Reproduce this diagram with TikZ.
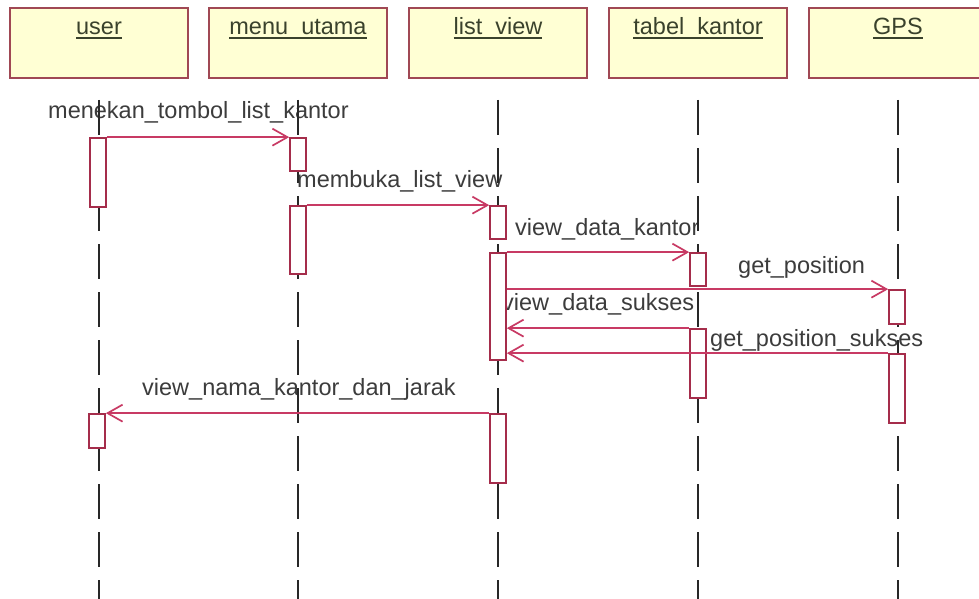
\documentclass[tikz,border=0pt]{standalone}
\usepackage{fontspec}
\setmainfont{Liberation Sans}
\usetikzlibrary{arrows.meta}

\definecolor{boxline}{RGB}{160,72,84}
\definecolor{boxfill}{RGB}{255,255,212}
\definecolor{objtext}{RGB}{58,66,44}
\definecolor{msgcol}{RGB}{200,58,100}
\definecolor{actcol}{RGB}{165,45,75}
\definecolor{lifecol}{RGB}{40,40,40}
\definecolor{labeltext}{RGB}{60,60,60}

% underlined object name
\newcommand\objname[1]{\setbox0\hbox{#1}\rlap{\rule[-4pt]{\wd0}{1.6pt}}\box0}

\begin{document}
\begin{tikzpicture}[x=1pt,y=-1pt,
  objbox/.style={draw=boxline, fill=boxfill, line width=2.4pt,
    minimum width=178pt, minimum height=70pt, inner sep=0pt,
    text height=18pt, text depth=34pt, text=objtext,
    font=\fontsize{23.5}{28}\selectfont},
  lifeline/.style={draw=lifecol, line width=2pt, dash pattern=on 35pt off 13pt},
  act/.style={draw=actcol, fill=white, line width=1.7pt,
    minimum width=16pt, inner sep=0pt},
  msg/.style={draw=msgcol, line width=1.9pt,
    -{Straight Barb[length=15pt,width=17pt,line width=1.7pt]}},
  msglabel/.style={anchor=base west, inner sep=0pt, text=labeltext,
    font=\fontsize{23.5}{28}\selectfont}]

\useasboundingbox (0,0) rectangle (979,599);
\clip (0,0) rectangle (979,599);
\fill[white] (0,0) rectangle (979,599);

% objects
\node[objbox] (user)  at (99,43)  {\objname{user}};
\node[objbox] (menu)  at (298,43) {\objname{menu\_utama}};
\node[objbox] (list)  at (498,43) {\objname{list\_view}};
\node[objbox] (tabel) at (698,43) {\objname{tabel\_kantor}};
\node[objbox] (gps)   at (898,43) {\objname{GPS}};

% lifeline ends
\coordinate (u0) at (99,100);  \coordinate (u1) at (99,599);
\coordinate (m0) at (298,100); \coordinate (m1) at (298,599);
\coordinate (l0) at (498,100); \coordinate (l1) at (498,599);
\coordinate (t0) at (698,100); \coordinate (t1) at (698,599);
\coordinate (g0) at (898,100); \coordinate (g1) at (898,599);

% message labels
\node[msglabel] (lab1) at (48,118)  {menekan\_tombol\_list\_kantor};
\node[msglabel] (lab2) at (297,187) {membuka\_list\_view};
\node[msglabel] (lab3) at (515,235) {view\_data\_kantor};
\node[msglabel] (lab4) at (738,273) {get\_position};
\node[msglabel] (lab5) at (502,310) {view\_data\_sukses};
\node[msglabel] (lab6) at (710,346) {get\_position\_sukses};
\node[msglabel] (lab7) at (142,395) {view\_nama\_kantor\_dan\_jarak};

% lifelines
\draw[lifeline] (u0) -- (u1);
\draw[lifeline] (m0) -- (m1);
\draw[lifeline] (l0) -- (l1);
\draw[lifeline] (t0) -- (t1);
\draw[lifeline] (g0) -- (g1);

% activations
\node[act, minimum height=69pt]  (ua1) at (98,172.5)  {};
\node[act, minimum height=33pt]  (ma1) at (298,154.5) {};
\node[act, minimum height=68pt]  (ma2) at (298,240)   {};
\node[act, minimum height=33pt]  (la1) at (498,222.5) {};
\node[act, minimum height=107pt] (la2) at (498,306.5) {};
\node[act, minimum height=33pt]  (ta1) at (698,269.5) {};
\node[act, minimum height=34pt]  (ga1) at (897,307)   {};
\node[act, minimum height=69pt]  (ta2) at (698,363.5) {};
\node[act, minimum height=69pt]  (ga2) at (897,388.5) {};
\node[act, minimum height=34pt]  (ua2) at (97,431)    {};
\node[act, minimum height=69pt]  (la3) at (498,448.5) {};

% messages
\draw[msg] (ua1.north east) -- (ma1.north west);
\draw[msg] (ma2.north east) -- (la1.north west);
\draw[msg] (la2.north east) -- (ta1.north west);
\draw[msg] (la2.east |- ga1.north west) -- (ga1.north west);
\draw[msg] (ta2.north west) -- (ta2.north west -| la2.east);
\draw[msg] (ga2.north west) -- (ga2.north west -| la2.east);
\draw[msg] (la3.north west) -- (ua2.north east);
\end{tikzpicture}
\end{document}
